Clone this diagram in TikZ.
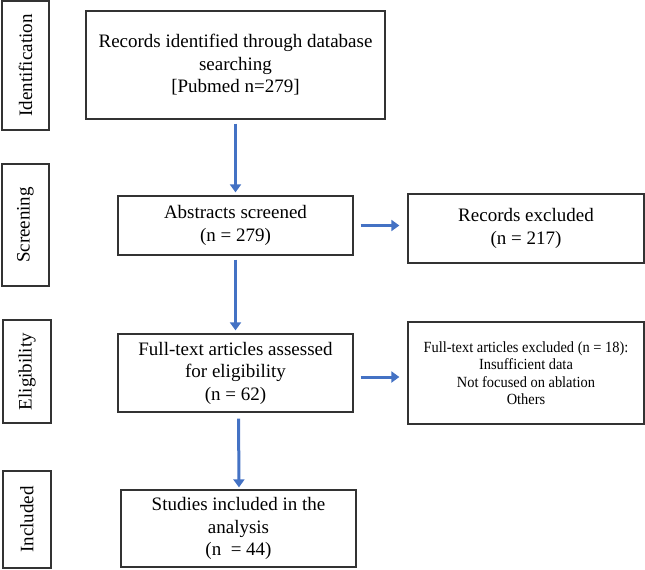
\documentclass[tikz,border=0pt]{standalone}
\usepackage{fontspec}
\setmainfont{Liberation Serif}
\newfontfamily\narrowfont[FakeStretch=0.93]{Liberation Serif}
\usetikzlibrary{arrows.meta}
\definecolor{arrblue}{HTML}{4472C4}
\definecolor{boxline}{HTML}{333333}
\begin{document}
\begin{tikzpicture}[x=1pt,y=-1pt,
  box/.style={draw=boxline, line width=1.3pt, inner sep=0pt, align=center,
    font=\fontsize{19}{22.5}\selectfont},
  smallbox/.style={box, font=\narrowfont\fontsize{15.5}{17.5}\selectfont},
  side/.style={box, rotate=90},
  arr/.style={draw=arrblue, line width=3pt, -{Triangle[length=8pt,width=11pt]}}]
\useasboundingbox (0,0) rectangle (645,570);
% side labels
\node[side, minimum width=129pt, minimum height=47pt] (lid) at (25.5,65.5) {Identification};
\node[side, minimum width=122pt, minimum height=47pt] (lsc) at (25.5,225) {Screening};
\node[side, minimum width=103pt, minimum height=48pt] (lel) at (27,371.5) {Eligibility};
\node[side, minimum width=97pt, minimum height=48pt] (lin) at (27,519.5) {Included};
% main boxes
\node[box, minimum width=299pt, minimum height=108pt] (rec) at (235.5,65)
  {Records identified through database\\searching\\{}[Pubmed n=279]};
\node[box, minimum width=235pt, minimum height=59pt] (abs) at (235.5,225.5)
  {Abstracts screened\\(n = 279)};
\node[box, minimum width=236pt, minimum height=69pt] (rex) at (526,228.5)
  {Records excluded\\(n = 217)};
\node[box, minimum width=235pt, minimum height=78pt] (ft) at (235.5,373)
  {Full-text articles assessed\\for eligibility\\(n = 62)};
\node[smallbox, minimum width=236pt, minimum height=102pt] (ftx) at (526,373)
  {Full-text articles excluded (n = 18):\\Insufficient data\\Not focused on ablation\\Others};
\node[box, minimum width=235pt, minimum height=77pt] (st) at (238.5,528.5)
  {Studies included in the\\analysis\\(n \ = 44)};
% arrows
\draw[arr, shorten <=4pt, shorten >=3pt] (rec.south) -- (abs.north);
\draw[arr, shorten <=4pt, shorten >=3pt] (abs.south) -- (ft.north);
\draw[arr, shorten <=6pt, shorten >=2pt] ([xshift=3pt]ft.south) -- ([xshift=0.5pt]st.north);
\draw[arr, shorten <=7pt, shorten >=8pt] (abs.east) -- (abs.east -| rex.west);
\draw[arr, shorten <=7pt, shorten >=8pt] ([yshift=-4pt]ft.east) -- ([yshift=-4pt]ft.east -| ftx.west);
\end{tikzpicture}
\end{document}
